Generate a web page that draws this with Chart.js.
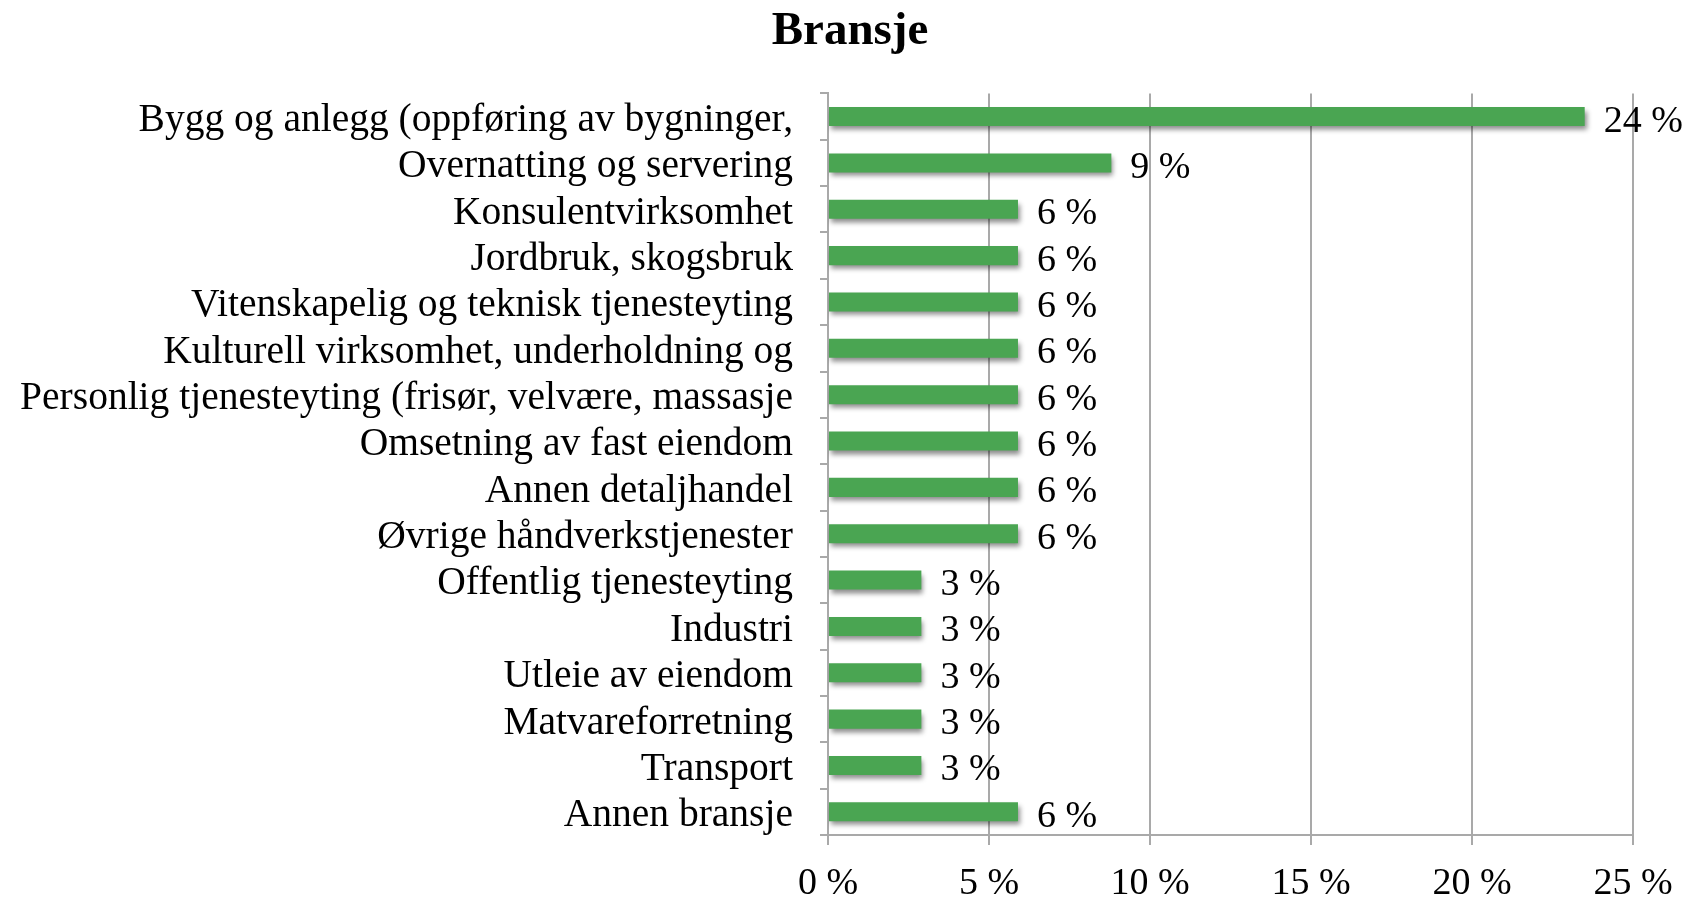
<!DOCTYPE html>
<html>
<head>
<meta charset="utf-8">
<script src="https://cdn.jsdelivr.net/npm/chart.js@4"></script>
<style>
  body { margin: 0; background: #fff; }
  #wrap { width: 1692px; height: 898px; }
</style>
</head>
<body>
<div id="wrap"><canvas id="myChart" width="1692" height="898"></canvas></div>
<script>
// data (share of answers, %)
const categories = [
    'Bygg og anlegg (oppføring av bygninger,',
    'Overnatting og servering',
    'Konsulentvirksomhet',
    'Jordbruk, skogsbruk',
    'Vitenskapelig og teknisk tjenesteyting',
    'Kulturell virksomhet, underholdning og',
    'Personlig tjenesteyting (frisør, velvære, massasje',
    'Omsetning av fast eiendom',
    'Annen detaljhandel',
    'Øvrige håndverkstjenester',
    'Offentlig tjenesteyting',
    'Industri',
    'Utleie av eiendom',
    'Matvareforretning',
    'Transport',
    'Annen bransje'
]
const shares = [23.5, 8.8, 5.9, 5.9, 5.9, 5.9, 5.9, 5.9, 5.9, 5.9, 2.9, 2.9, 2.9, 2.9, 2.9, 5.9]
const xTicks = [0, 5, 10, 15, 20, 25]

const gridGray = '#a9a9a9'
const barGreen = '#4aa552'
Chart.defaults.font.family = "'Liberation Serif', serif"
Chart.defaults.color = '#000'

// soft drop shadow under the bars
const barShadow = {
    id: 'barShadow',
    beforeDatasetsDraw: chart => {
        const ctx = chart.ctx
        ctx.save()
        ctx.shadowColor = 'rgba(0,0,0,0.45)'
        ctx.shadowBlur = 5
        ctx.shadowOffsetX = 2
        ctx.shadowOffsetY = 4
    },
    afterDatasetsDraw: chart => {
        chart.ctx.restore()
    }
}

// "24 %" etc. next to each bar
const valueLabels = {
    id: 'valueLabels',
    afterDatasetsDraw: chart => {
        const ctx = chart.ctx
        const bars = chart.getDatasetMeta(0).data
        ctx.save()
        ctx.font = "38px 'Liberation Serif'"
        ctx.fillStyle = '#000'
        ctx.textAlign = 'left'
        ctx.textBaseline = 'middle'
        bars.forEach((bar, i) => {
            ctx.fillText(Math.round(shares[i]) + ' %', bar.x + 19, bar.y + 5)
        })
        ctx.restore()
    }
}

new Chart(document.querySelector('#myChart'), {
    type: 'bar',
    data: {
        labels: categories,
        datasets: [{
            data: shares,
            backgroundColor: barGreen,
            borderWidth: 0,
            barPercentage: 0.41,
            categoryPercentage: 1
        }]
    },
    options: {
        indexAxis: 'y',
        responsive: false,
        animation: false,
        layout: { padding: { left: 8, right: 0, top: 0, bottom: 0 } },
        plugins: {
            legend: { display: false },
            tooltip: { enabled: false },
            title: {
                display: true,
                text: 'Bransje',
                color: '#000',
                font: { size: 47, weight: 'bold', lineHeight: 1.2 },
                padding: { top: 4, bottom: 33 }
            }
        },
        scales: {
            x: {
                min: 0,
                max: 25,
                afterBuildTicks: scale => {
                    scale.ticks = xTicks.map(v => ({ value: v }))
                },
                afterFit: scale => {
                    scale.height = 63
                    scale.paddingRight = 59
                },
                grid: { color: gridGray, lineWidth: 2, tickLength: 10 },
                border: { color: gridGray, width: 2 },
                ticks: {
                    font: { size: 38 },
                    padding: 16,
                    maxRotation: 0,
                    callback: v => v + ' %'
                }
            },
            y: {
                afterFit: scale => { scale.width = 820 },
                grid: { offset: true, drawOnChartArea: false, color: gridGray, lineWidth: 2, tickLength: 8 },
                border: { color: gridGray, width: 2 },
                ticks: {
                    font: { size: 39.5 },
                    padding: 27,
                    labelOffset: 4,
                    autoSkip: false
                }
            }
        }
    },
    plugins: [barShadow, valueLabels]
})
</script>
</body>
</html>
